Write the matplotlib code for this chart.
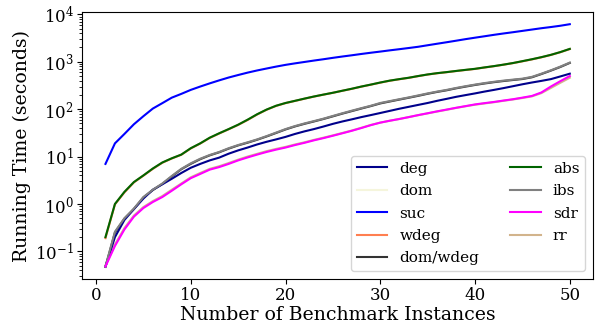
import matplotlib
matplotlib.use("Agg")
import matplotlib.pyplot as plt
import numpy as np

plt.rcParams['font.family'] = ['DejaVu Serif']

x = list(range(1, 51))

suc = [7, 19, 30, 48, 71, 103, 134, 175, 210, 255, 300, 350, 405, 465, 525, 590, 655, 720, 790, 860,
       925, 990, 1060, 1130, 1210, 1290, 1370, 1460, 1550, 1640, 1740, 1840, 1950, 2070, 2230, 2400,
       2580, 2780, 3000, 3220, 3450, 3700, 3950, 4200, 4480, 4780, 5100, 5400, 5750, 6200]
abs_ = [0.2, 1.0, 1.8, 2.9, 4.0, 5.6, 7.5, 9.2, 11, 15, 19, 25, 31, 38, 47, 60, 78, 98, 118, 135,
        150, 167, 185, 203, 222, 245, 270, 300, 330, 365, 400, 430, 460, 500, 540, 575, 605, 640, 675, 710,
        760, 810, 870, 940, 1030, 1130, 1250, 1400, 1600, 1870]
wdeg = [0.19, 0.98, 1.75, 2.85, 3.95, 5.5, 7.4, 9.1, 10.9, 14.8, 18.8, 24.7, 30.6, 37.6, 46.5, 59, 77, 97, 117, 134,
        149, 166, 184, 202, 221, 244, 268, 298, 328, 362, 397, 427, 457, 497, 537, 571, 601, 636, 670, 705,
        755, 805, 865, 935, 1020, 1120, 1240, 1390, 1590, 1850]
dom = [0.2, 1.0, 1.8, 2.9, 4.0, 5.6, 7.5, 9.2, 11, 15, 19, 25, 31, 38, 47, 60, 78, 98, 118, 135,
       150, 167, 185, 203, 222, 245, 270, 300, 330, 365, 400, 430, 460, 500, 540, 575, 605, 640, 675, 710,
       760, 810, 870, 940, 1030, 1130, 1250, 1400, 1600, 1870]
ibs = [0.048, 0.26, 0.5, 0.8, 1.4, 2.0, 2.7, 3.9, 5.5, 7.2, 9, 10.8, 12.5, 15, 17.5, 20, 23, 27, 32, 38,
       44, 50, 56, 63, 72, 82, 93, 105, 118, 135, 148, 162, 177, 195, 215, 235, 255, 280, 305, 330,
       355, 378, 400, 420, 440, 480, 560, 660, 790, 960]
domwdeg = [0.047, 0.25, 0.49, 0.78, 1.37, 1.96, 2.65, 3.8, 5.4, 7.0, 8.8, 10.6, 12.3, 14.7, 17.2, 19.6, 22.6, 26.5, 31.4, 37.3,
           43.2, 49, 55, 62, 70.5, 80.5, 91, 103, 116, 132, 145, 159, 174, 191, 211, 231, 250, 275, 299, 324,
           348, 371, 392, 412, 432, 470, 550, 650, 775, 945]
deg = [0.048, 0.2, 0.46, 0.78, 1.3, 2.0, 2.6, 3.4, 4.5, 5.8, 7, 8.3, 9.5, 11.5, 13.5, 15.5, 18, 20.5, 23, 26,
       30, 34, 38, 43, 49, 55, 61, 68, 75, 83, 92, 102, 112, 123, 135, 150, 165, 182, 198, 215,
       235, 255, 278, 305, 335, 365, 395, 430, 490, 560]
sdr = [0.048, 0.13, 0.29, 0.54, 0.82, 1.1, 1.4, 1.9, 2.6, 3.5, 4.3, 5.3, 6.0, 7.0, 8.3, 9.6, 11, 12.5, 14, 15.5,
       17.5, 19.5, 22, 24.5, 27.5, 31, 35, 40, 46, 52, 57, 62, 68, 75, 82, 90, 98, 107, 116, 126,
       134, 142, 152, 162, 175, 190, 225, 300, 390, 500]
rr = [0.05, 0.14, 0.31, 0.57, 0.86, 1.15, 1.47, 2.0, 2.7, 3.65, 4.5, 5.5, 6.25, 7.3, 8.6, 10, 11.4, 13, 14.5, 16,
      18, 20, 22.5, 25, 28, 31.5, 35.5, 40.5, 46.5, 52, 57, 62, 68, 74.5, 81.5, 89, 97, 106, 115, 124,
      132, 140, 150, 160, 172, 186, 218, 280, 360, 460]

series = [
    ("deg", deg, "darkblue", 3),
    ("dom", dom, "beige", 2),
    ("suc", suc, "blue", 3),
    ("wdeg", wdeg, "coral", 2),
    ("dom/wdeg", domwdeg, "#333333", 2),
    ("abs", abs_, "darkgreen", 3),
    ("ibs", ibs, "gray", 3),
    ("sdr", sdr, "magenta", 3),
    ("rr", rr, "tan", 2),
]

fig = plt.figure(figsize=(5.96, 3.26), dpi=100)
ax = fig.add_axes([0.138, 0.144, 0.857, 0.819])
for name, vals, col, z in series:
    ax.plot(x, vals, color=col, lw=1.5, label=name, zorder=z)
ax.set_yscale('log')
ax.set_xlabel("Number of Benchmark Instances", fontsize=13.6, labelpad=1)
ax.set_ylabel("Running Time (seconds)", fontsize=13.6, labelpad=3)
ax.tick_params(labelsize=12, pad=2.5)
ax.set_xticks([0, 10, 20, 30, 40, 50])
ax.legend(ncol=2, loc='lower right', fontsize=11, labelspacing=0.55)
fig.savefig("out.png", dpi=100)
